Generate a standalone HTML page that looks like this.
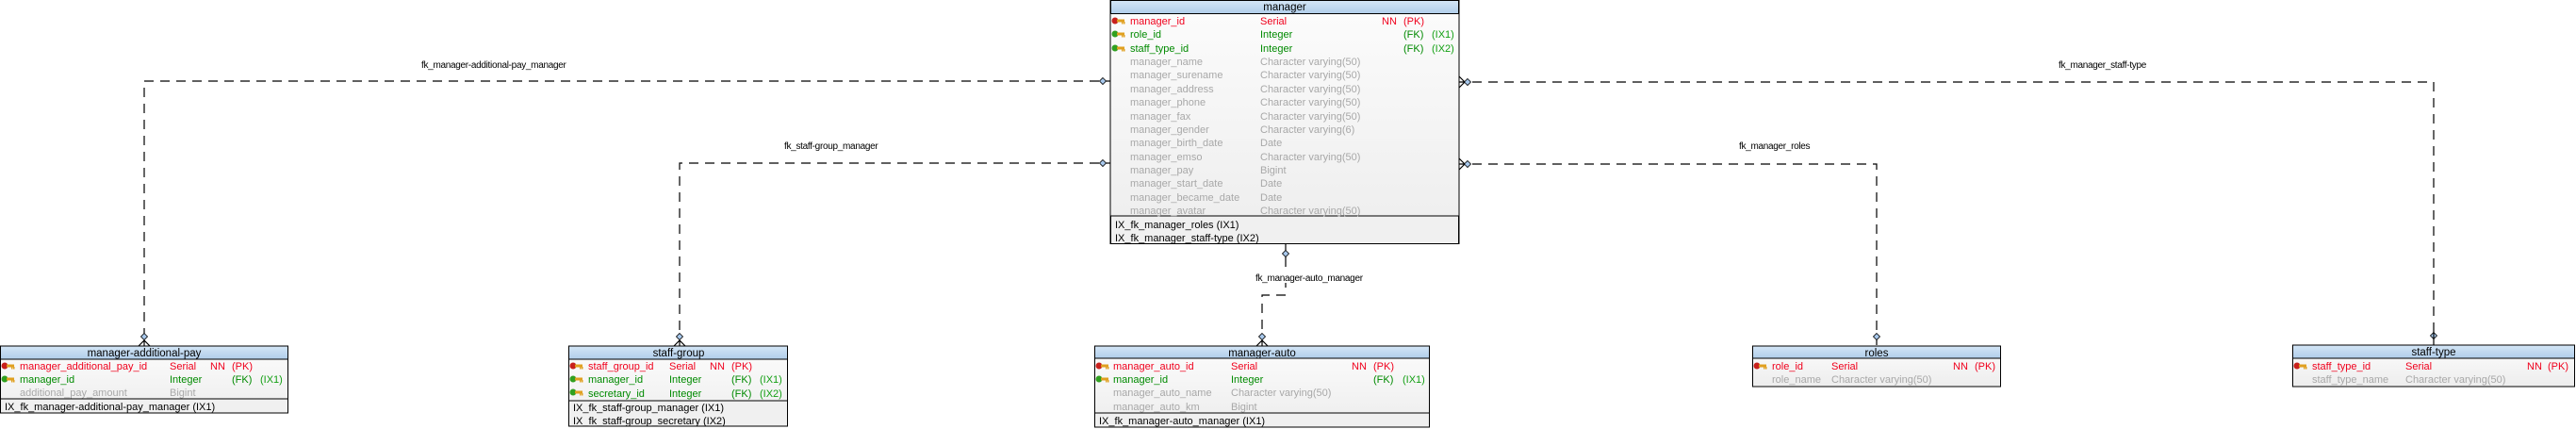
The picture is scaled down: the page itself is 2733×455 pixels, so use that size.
<!DOCTYPE html>
<html><head><meta charset="utf-8">
<style>
html,body{margin:0;padding:0;background:#fff;}
svg{display:block;}
text{font-family:"Liberation Sans",Arial,sans-serif;font-size:11px;}
.h{font-size:11.5px;fill:#000;text-anchor:middle;}
.pk{fill:#f0001c;}
.fk{fill:#008a00;}
.ix{fill:#14a014;}
.g{fill:#a8a8a8;}
.k{fill:#000;}
.ln{stroke:#000;stroke-width:1.2;fill:none;stroke-dasharray:10,7;}
.sl{stroke:#000;stroke-width:1.2;fill:none;}
.lbl{fill:#000;font-size:10px;letter-spacing:-0.3px;}
</style></head>
<body>
<svg width="2733" height="455" viewBox="0 0 2733 455" xmlns="http://www.w3.org/2000/svg">
<defs>
<linearGradient id="hd" x1="0" y1="0" x2="0" y2="1"><stop offset="0" stop-color="#d4e6f6"/><stop offset="1" stop-color="#b0cdea"/></linearGradient>
<linearGradient id="bd" x1="0" y1="0" x2="0" y2="1"><stop offset="0" stop-color="#fcfcfc"/><stop offset="1" stop-color="#ededed"/></linearGradient>
<g id="kr"><ellipse cx="0" cy="0" rx="3.5" ry="3.5" fill="#c8201c"/><rect x="2" y="-1.5" width="8" height="3" fill="#e0a020"/><rect x="7" y="1" width="1.5" height="2.5" fill="#e0a020"/><rect x="9" y="1" width="1.5" height="2.5" fill="#e0a020"/></g>
<g id="kg"><ellipse cx="0" cy="0" rx="3.5" ry="3.5" fill="#30a020"/><rect x="2" y="-1.5" width="8" height="3" fill="#e0a020"/><rect x="7" y="1" width="1.5" height="2.5" fill="#e0a020"/><rect x="9" y="1" width="1.5" height="2.5" fill="#e0a020"/></g>
<g id="dm"><path d="M0,-3.5 L3.5,0 L0,3.5 L-3.5,0 Z" fill="#a8c8ec" stroke="#000" stroke-width="0.8"/></g>
</defs>

<path class="ln" d="M1166,86 L153,86 L153,357"/>
<use href="#dm" x="1170" y="86"/>
<line class="sl" x1="1173" y1="86" x2="1178" y2="86"/>
<use href="#dm" x="153" y="357"/>
<path class="sl" d="M153,361 L153,367 M147,367 L153,361 L159,367"/>
<text class="lbl" x="447" y="72">fk_manager-additional-pay_manager</text>

<path class="ln" d="M1166,173 L721,173 L721,357"/>
<use href="#dm" x="1170" y="173"/>
<line class="sl" x1="1173" y1="173" x2="1178" y2="173"/>
<use href="#dm" x="721" y="357"/>
<path class="sl" d="M721,361 L721,367 M715,367 L721,361 L727,367"/>
<text class="lbl" x="832" y="158">fk_staff-group_manager</text>

<path class="ln" d="M1562,87 L2582,87 L2582,352"/>
<path class="sl" d="M1548,87 L1558,87 M1548,81 L1554,87 L1548,93"/>
<use href="#dm" x="1557" y="87"/>
<use href="#dm" x="2582" y="356"/>
<line class="sl" x1="2582" y1="352" x2="2582" y2="366"/>
<text class="lbl" x="2184" y="72">fk_manager_staff-type</text>

<path class="ln" d="M1562,174 L1991,174 L1991,353"/>
<path class="sl" d="M1548,174 L1558,174 M1548,168 L1554,174 L1548,180"/>
<use href="#dm" x="1557" y="174"/>
<use href="#dm" x="1991" y="357"/>
<line class="sl" x1="1991" y1="360" x2="1991" y2="366"/>
<text class="lbl" x="1845" y="158">fk_manager_roles</text>

<line class="sl" x1="1364" y1="259" x2="1364" y2="266"/>
<use href="#dm" x="1364" y="269"/>
<line class="sl" x1="1364" y1="272" x2="1364" y2="283"/>
<text class="lbl" x="1332" y="298">fk_manager-auto_manager</text>
<line class="sl" x1="1364" y1="300" x2="1364" y2="305"/>
<path class="ln" d="M1364,313 L1339,313 L1339,353"/>
<use href="#dm" x="1339" y="357"/>
<path class="sl" d="M1339,361 L1339,367 M1333,367 L1339,361 L1345,367"/>

<rect x="1178" y="0.5" width="370" height="258" fill="url(#bd)" stroke="#000" stroke-width="1"/>
<rect x="1178.5" y="0.5" width="369" height="14" fill="url(#hd)" stroke="#000" stroke-width="1"/>
<rect x="1178.5" y="229" width="369" height="29.5" fill="#f0f0f0" stroke="#000" stroke-width="1"/>
<text class="h" x="1363" y="11">manager</text>
<use href="#kr" x="1183" y="22"/><use href="#kg" x="1183" y="36"/><use href="#kg" x="1183" y="51"/>
<text class="pk" x="1199" y="26">manager_id</text><text class="pk" x="1337" y="26">Serial</text><text class="pk" x="1466" y="26">NN</text><text class="pk" x="1489" y="26">(PK)</text>
<text class="fk" x="1199" y="40">role_id</text><text class="fk" x="1337" y="40">Integer</text><text class="fk" x="1489" y="40">(FK)</text><text class="ix" x="1519" y="40">(IX1)</text>
<text class="fk" x="1199" y="55">staff_type_id</text><text class="fk" x="1337" y="55">Integer</text><text class="fk" x="1489" y="55">(FK)</text><text class="ix" x="1519" y="55">(IX2)</text>
<text class="g" x="1199" y="69">manager_name</text><text class="g" x="1337" y="69">Character varying(50)</text>
<text class="g" x="1199" y="83">manager_surename</text><text class="g" x="1337" y="83">Character varying(50)</text>
<text class="g" x="1199" y="98">manager_address</text><text class="g" x="1337" y="98">Character varying(50)</text>
<text class="g" x="1199" y="112">manager_phone</text><text class="g" x="1337" y="112">Character varying(50)</text>
<text class="g" x="1199" y="127">manager_fax</text><text class="g" x="1337" y="127">Character varying(50)</text>
<text class="g" x="1199" y="141">manager_gender</text><text class="g" x="1337" y="141">Character varying(6)</text>
<text class="g" x="1199" y="155">manager_birth_date</text><text class="g" x="1337" y="155">Date</text>
<text class="g" x="1199" y="170">manager_emso</text><text class="g" x="1337" y="170">Character varying(50)</text>
<text class="g" x="1199" y="184">manager_pay</text><text class="g" x="1337" y="184">Bigint</text>
<text class="g" x="1199" y="198">manager_start_date</text><text class="g" x="1337" y="198">Date</text>
<text class="g" x="1199" y="213">manager_became_date</text><text class="g" x="1337" y="213">Date</text>
<text class="g" x="1199" y="227">manager_avatar</text><text class="g" x="1337" y="227">Character varying(50)</text>
<text class="k" x="1183" y="242">IX_fk_manager_roles (IX1)</text>
<text class="k" x="1183" y="256">IX_fk_manager_staff-type (IX2)</text>

<rect x="0.5" y="367" width="305" height="71" fill="url(#bd)" stroke="#000"/>
<rect x="0.5" y="367" width="305" height="14" fill="url(#hd)" stroke="#000"/>
<rect x="0.5" y="423" width="305" height="15" fill="#f0f0f0" stroke="#000"/>
<text class="h" x="153" y="378">manager-additional-pay</text>
<use href="#kr" x="5" y="388"/><use href="#kg" x="5" y="402"/>
<text class="pk" x="21" y="392">manager_additional_pay_id</text><text class="pk" x="180" y="392">Serial</text><text class="pk" x="223" y="392">NN</text><text class="pk" x="246" y="392">(PK)</text>
<text class="fk" x="21" y="406">manager_id</text><text class="fk" x="180" y="406">Integer</text><text class="fk" x="246" y="406">(FK)</text><text class="ix" x="276" y="406">(IX1)</text>
<text class="g" x="21" y="420">additional_pay_amount</text><text class="g" x="180" y="420">Bigint</text>
<text class="k" x="5" y="435">IX_fk_manager-additional-pay_manager (IX1)</text>

<rect x="603.5" y="367" width="232" height="85" fill="url(#bd)" stroke="#000"/>
<rect x="603.5" y="367" width="232" height="14" fill="url(#hd)" stroke="#000"/>
<rect x="603.5" y="425" width="232" height="27" fill="#f0f0f0" stroke="#000"/>
<text class="h" x="720" y="378">staff-group</text>
<use href="#kr" x="608" y="388"/><use href="#kg" x="608" y="402"/><use href="#kg" x="608" y="416"/>
<text class="pk" x="624" y="392">staff_group_id</text><text class="pk" x="710" y="392">Serial</text><text class="pk" x="753" y="392">NN</text><text class="pk" x="776" y="392">(PK)</text>
<text class="fk" x="624" y="406">manager_id</text><text class="fk" x="710" y="406">Integer</text><text class="fk" x="776" y="406">(FK)</text><text class="ix" x="806" y="406">(IX1)</text>
<text class="fk" x="624" y="421">secretary_id</text><text class="fk" x="710" y="421">Integer</text><text class="fk" x="776" y="421">(FK)</text><text class="ix" x="806" y="421">(IX2)</text>
<text class="k" x="608" y="436">IX_fk_staff-group_manager (IX1)</text>
<text class="k" x="608" y="450">IX_fk_staff-group_secretary (IX2)</text>

<rect x="1161.5" y="367" width="355" height="86" fill="url(#bd)" stroke="#000"/>
<rect x="1161.5" y="367" width="355" height="13" fill="url(#hd)" stroke="#000"/>
<rect x="1161.5" y="438" width="355" height="15" fill="#f0f0f0" stroke="#000"/>
<text class="h" x="1339" y="378">manager-auto</text>
<use href="#kr" x="1166" y="388"/><use href="#kg" x="1166" y="402"/>
<text class="pk" x="1181" y="392">manager_auto_id</text><text class="pk" x="1306" y="392">Serial</text><text class="pk" x="1434" y="392">NN</text><text class="pk" x="1457" y="392">(PK)</text>
<text class="fk" x="1181" y="406">manager_id</text><text class="fk" x="1306" y="406">Integer</text><text class="fk" x="1457" y="406">(FK)</text><text class="ix" x="1488" y="406">(IX1)</text>
<text class="g" x="1181" y="420">manager_auto_name</text><text class="g" x="1306" y="420">Character varying(50)</text>
<text class="g" x="1181" y="435">manager_auto_km</text><text class="g" x="1306" y="435">Bigint</text>
<text class="k" x="1166" y="450">IX_fk_manager-auto_manager (IX1)</text>

<rect x="1859.5" y="367" width="263" height="43" fill="url(#bd)" stroke="#000"/>
<rect x="1859.5" y="367" width="263" height="13" fill="url(#hd)" stroke="#000"/>
<text class="h" x="1991" y="378">roles</text>
<use href="#kr" x="1864" y="388"/>
<text class="pk" x="1880" y="392">role_id</text><text class="pk" x="1943" y="392">Serial</text><text class="pk" x="2072" y="392">NN</text><text class="pk" x="2095" y="392">(PK)</text>
<text class="g" x="1880" y="406">role_name</text><text class="g" x="1943" y="406">Character varying(50)</text>

<rect x="2432.5" y="366" width="299" height="44" fill="url(#bd)" stroke="#000"/>
<rect x="2432.5" y="366" width="299" height="14" fill="url(#hd)" stroke="#000"/>
<text class="h" x="2582" y="377">staff-type</text>
<use href="#kr" x="2437" y="388"/>
<text class="pk" x="2453" y="392">staff_type_id</text><text class="pk" x="2552" y="392">Serial</text><text class="pk" x="2681" y="392">NN</text><text class="pk" x="2703" y="392">(PK)</text>
<text class="g" x="2453" y="406">staff_type_name</text><text class="g" x="2552" y="406">Character varying(50)</text>
</svg>
</body></html>
